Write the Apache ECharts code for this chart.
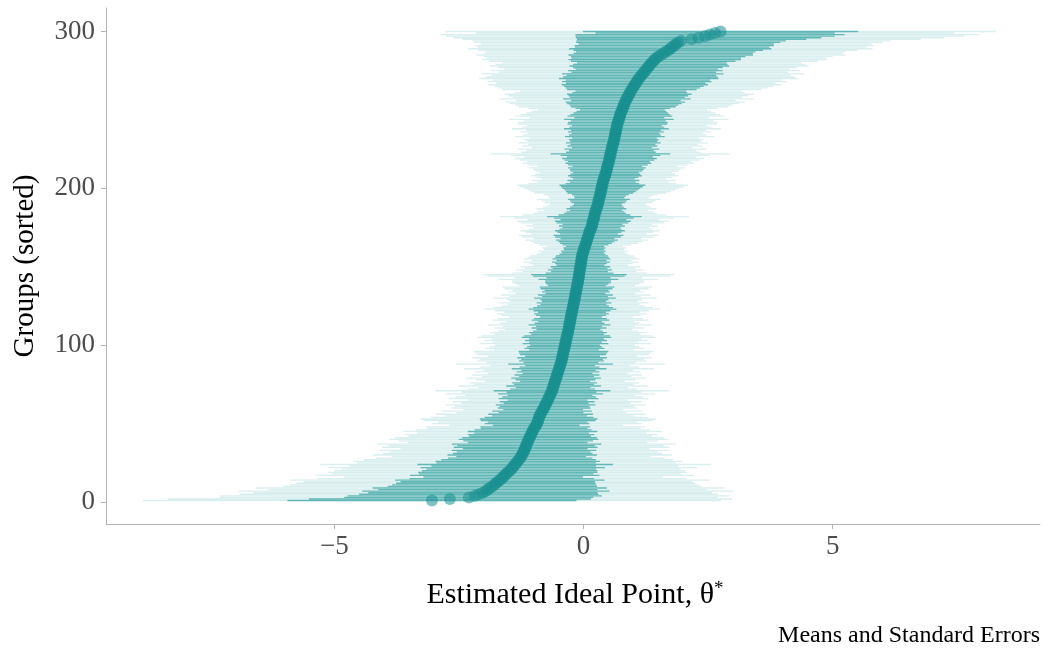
<!DOCTYPE html>
<html><head><meta charset="utf-8">
<script src="https://cdn.jsdelivr.net/npm/echarts@6/dist/echarts.min.js"></script>
<style>html,body{margin:0;padding:0;background:#fff}#c{width:1045px;height:654px}</style>
</head><body><div id="c"></div>
<script>
// Estimated means (sorted), groups 1..300
const means = [
-3.04,-2.68,-2.30,-2.18,-2.10,-2.02,-1.96,-1.92,-1.88,-1.83,
-1.79,-1.76,-1.72,-1.68,-1.64,-1.61,-1.58,-1.55,-1.52,-1.48,
-1.45,-1.42,-1.40,-1.37,-1.35,-1.32,-1.30,-1.27,-1.25,-1.23,
-1.22,-1.20,-1.19,-1.17,-1.16,-1.15,-1.14,-1.12,-1.11,-1.10,
-1.08,-1.07,-1.05,-1.04,-1.02,-1.01,-0.99,-0.97,-0.95,-0.93,
-0.92,-0.91,-0.90,-0.89,-0.88,-0.86,-0.85,-0.83,-0.81,-0.79,
-0.78,-0.76,-0.75,-0.73,-0.72,-0.70,-0.69,-0.67,-0.66,-0.64,
-0.63,-0.62,-0.61,-0.60,-0.59,-0.58,-0.57,-0.56,-0.55,-0.54,
-0.53,-0.52,-0.51,-0.50,-0.49,-0.48,-0.47,-0.46,-0.45,-0.44,
-0.43,-0.43,-0.42,-0.41,-0.41,-0.40,-0.39,-0.38,-0.38,-0.37,
-0.36,-0.36,-0.35,-0.34,-0.34,-0.33,-0.32,-0.31,-0.31,-0.30,
-0.29,-0.29,-0.28,-0.28,-0.27,-0.26,-0.26,-0.25,-0.25,-0.24,
-0.23,-0.23,-0.22,-0.21,-0.21,-0.20,-0.19,-0.19,-0.18,-0.17,
-0.17,-0.16,-0.16,-0.15,-0.14,-0.14,-0.13,-0.13,-0.12,-0.11,
-0.11,-0.10,-0.10,-0.09,-0.09,-0.08,-0.08,-0.07,-0.07,-0.06,
-0.06,-0.05,-0.05,-0.04,-0.04,-0.03,-0.03,-0.02,-0.01,0.00,
0.01,0.02,0.03,0.04,0.05,0.06,0.07,0.08,0.09,0.10,
0.11,0.12,0.13,0.14,0.16,0.17,0.18,0.18,0.19,0.20,
0.21,0.22,0.22,0.23,0.24,0.25,0.26,0.27,0.28,0.29,
0.30,0.30,0.31,0.32,0.33,0.34,0.34,0.35,0.36,0.36,
0.37,0.38,0.38,0.39,0.40,0.41,0.42,0.43,0.44,0.45,
0.46,0.47,0.47,0.48,0.49,0.50,0.51,0.52,0.52,0.53,
0.54,0.54,0.55,0.56,0.57,0.57,0.58,0.59,0.60,0.61,
0.61,0.62,0.63,0.63,0.64,0.65,0.65,0.66,0.67,0.67,
0.68,0.69,0.70,0.71,0.72,0.73,0.74,0.75,0.76,0.78,
0.79,0.80,0.81,0.82,0.84,0.85,0.87,0.88,0.90,0.92,
0.93,0.95,0.97,0.99,1.01,1.03,1.05,1.07,1.09,1.11,
1.14,1.16,1.19,1.21,1.24,1.27,1.29,1.32,1.34,1.37,
1.40,1.43,1.46,1.50,1.55,1.60,1.65,1.70,1.74,1.78,
1.82,1.86,1.90,1.96,2.17,2.31,2.44,2.54,2.64,2.75
];
// Standard errors per group
const ses = [
2.90,2.83,2.50,2.55,2.40,2.30,2.48,2.20,2.35,2.10,
2.05,2.00,1.95,2.10,1.85,1.60,1.90,1.75,1.80,1.76,
1.70,1.85,1.65,1.96,1.60,1.65,1.55,1.45,1.30,1.50,
1.40,1.34,1.45,1.25,1.44,1.38,1.50,1.20,1.30,1.40,
1.35,1.22,1.27,1.15,1.30,1.17,1.07,1.10,0.87,1.05,
1.00,1.15,1.18,1.09,0.95,1.05,0.85,1.00,0.80,0.93,
0.90,1.00,0.85,0.95,0.80,1.00,0.94,0.85,1.05,0.90,
1.17,0.85,0.75,0.95,0.80,0.85,0.70,0.80,0.90,0.75,
0.85,0.70,0.83,0.75,0.95,0.80,0.70,1.05,0.75,0.85,
0.82,0.90,0.75,0.86,0.88,0.90,0.70,0.80,0.75,0.70,
0.86,0.73,0.82,0.75,0.90,0.86,0.73,0.78,0.70,0.64,
0.75,0.66,0.82,0.70,0.64,0.78,0.73,0.62,0.70,0.75,
0.68,0.77,0.88,0.80,0.72,0.66,0.75,0.64,0.68,0.82,
0.66,0.75,0.60,0.68,0.64,0.72,0.75,0.58,0.62,0.66,
0.66,0.80,0.64,0.92,0.96,0.68,0.57,0.64,0.55,0.60,
0.48,0.52,0.58,0.50,0.58,0.54,0.52,0.46,0.42,0.45,
0.40,0.42,0.38,0.46,0.52,0.56,0.62,0.54,0.66,0.70,
0.58,0.64,0.70,0.62,0.58,0.66,0.60,0.72,0.76,0.66,
0.80,0.95,0.72,0.62,0.58,0.52,0.60,0.54,0.50,0.48,
0.54,0.57,0.62,0.50,0.52,0.57,0.66,0.70,0.74,0.78,
0.82,0.86,0.74,0.66,0.72,0.62,0.68,0.74,0.70,0.66,
0.72,0.74,0.78,0.70,0.80,0.86,0.82,0.90,0.95,0.86,
1.00,1.20,0.90,0.85,0.95,0.80,0.90,0.85,0.95,0.87,
0.90,0.85,1.00,0.92,0.88,0.96,0.90,1.05,0.95,0.90,
1.00,1.00,0.95,1.10,0.90,1.05,1.00,0.95,0.90,0.85,
0.95,1.05,1.09,1.15,1.20,1.10,1.28,1.15,1.20,1.25,
1.15,1.11,1.30,1.35,1.40,1.47,1.40,1.50,1.45,1.60,
1.55,1.50,1.62,1.45,1.55,1.43,1.50,1.60,1.55,1.50,
1.65,1.73,1.70,1.75,1.85,1.80,1.80,1.90,2.03,1.95,
2.00,1.96,2.05,2.10,2.30,2.46,2.60,2.70,2.40,2.76
];
const xTicks = [-5, 0, 5];
const yTicks = [0, 100, 200, 300];

const ranks = means.map((_, i) => i + 1);
const rows = means.map((m, i) => [m, ranks[i], ses[i]]);

const FONT = "'Liberation Serif', 'DejaVu Serif', serif";
const TEAL = '0,139,139';

function bar(mult, color) {
  return function (params, api) {
    const m = api.value(0), g = api.value(1), s = api.value(2);
    const a = api.coord([m - mult * s, g]);
    const b = api.coord([m + mult * s, g]);
    const h = 1.35;
    return { type: 'rect', shape: { x: a[0], y: a[1] - h / 2, width: b[0] - a[0], height: h },
             style: { fill: color } };
  };
}

const chart = echarts.init(document.getElementById('c'), null, { renderer: 'canvas' });
chart.setOption({
  animation: false,
  backgroundColor: '#fff',
  grid: { left: 106, top: 8, width: 934, height: 516, containLabel: false },
  xAxis: {
    type: 'value', min: -9.58, max: 9.16,
    splitLine: { show: false },
    axisLine: { show: true, onZero: false, lineStyle: { color: '#b3b3b3', width: 1 } },
    axisTick: { show: true, length: 5, customValues: xTicks, lineStyle: { color: '#b3b3b3' } },
    axisLabel: { customValues: xTicks, color: '#4d4d4d', fontFamily: FONT, fontSize: 27, margin: 9,
                 formatter: v => String(v).replace('-', '\u2212') }
  },
  yAxis: {
    type: 'value', min: -13.95, max: 314.95,
    splitLine: { show: false },
    axisLine: { show: true, onZero: false, lineStyle: { color: '#b3b3b3', width: 1 } },
    axisTick: { show: true, length: 5, customValues: yTicks, lineStyle: { color: '#b3b3b3' } },
    axisLabel: { customValues: yTicks, color: '#4d4d4d', fontFamily: FONT, fontSize: 27, margin: 11 }
  },
  series: [
    { type: 'custom', data: rows, encode: { x: 0, y: 1 }, renderItem: bar(2, 'rgba(' + TEAL + ',0.15)'), z: 1 },
    { type: 'custom', data: rows, encode: { x: 0, y: 1 }, renderItem: bar(1, 'rgba(' + TEAL + ',0.55)'), z: 2 },
    { type: 'scatter', data: rows.map(r => [r[0], r[1]]), symbolSize: 12,
      itemStyle: { color: '#1a8f8f', opacity: 0.55 }, z: 3 }
  ],
  graphic: [
    { type: 'text', x: 575, y: 595, style: {
        text: '{a|Estimated Ideal Point, θ}{b|*}', align: 'center', verticalAlign: 'middle',
        rich: { a: { fontFamily: FONT, fontSize: 30, fill: '#000' },
                b: { fontFamily: FONT, fontSize: 19, fill: '#000', verticalAlign: 'top' } } } },
    { type: 'text', x: 25, y: 266, rotation: Math.PI / 2, style: {
        text: 'Groups (sorted)', align: 'center', verticalAlign: 'middle',
        fontFamily: FONT, fontSize: 29, fill: '#000' } },
    { type: 'text', x: 1040, y: 636, style: {
        text: 'Means and Standard Errors', align: 'right', verticalAlign: 'middle',
        fontFamily: FONT, fontSize: 24, fill: '#000' } }
  ]
});
</script></body></html>
